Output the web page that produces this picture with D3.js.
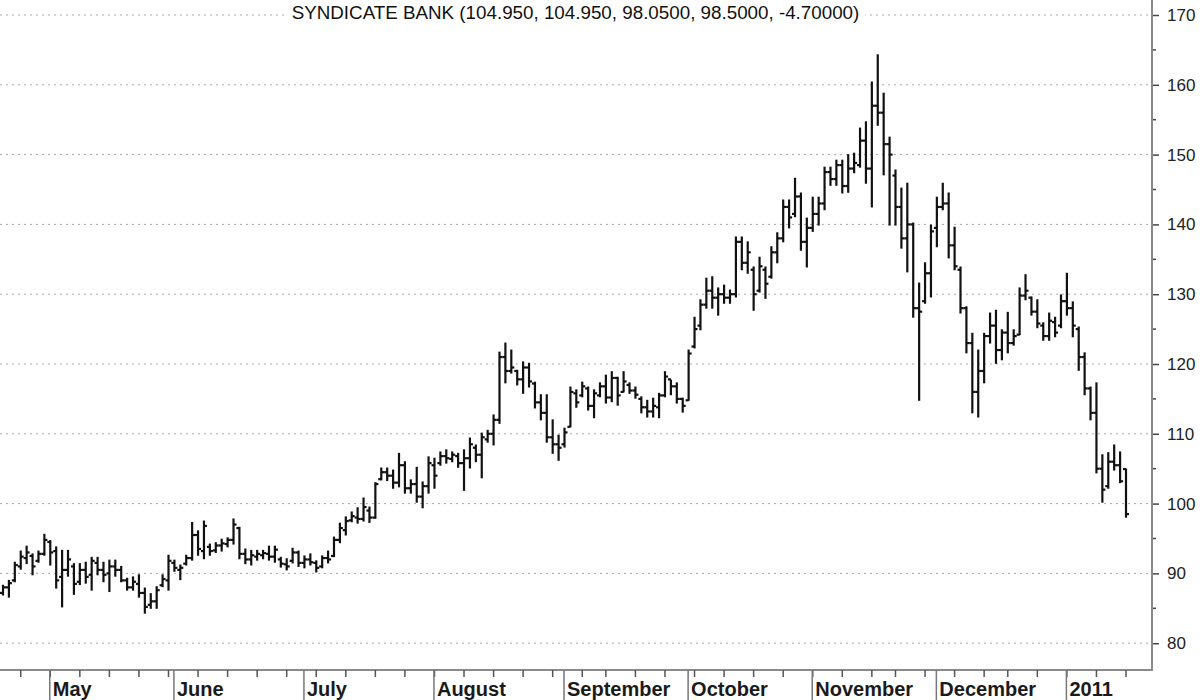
<!DOCTYPE html>
<html>
<head>
<meta charset="utf-8">
<script src="https://cdn.jsdelivr.net/npm/d3@7"></script>
<style>
  html, body { margin: 0; padding: 0; background: #fff; }
  svg { display: block; }
</style>
</head>
<body>
<svg id="chart" width="1200" height="700"></svg>
<script>
const titleText = "SYNDICATE BANK (104.950, 104.950, 98.0500, 98.5000, -4.70000)";

const highs = [
  88.3, 89.0, 91.6, 93.2, 93.9, 92.8, 93.2, 95.6, 94.7, 93.8,
  93.3, 93.3, 91.4, 91.4, 91.6, 92.3, 92.3, 91.6, 91.9, 91.9,
  91.0, 89.3, 89.5, 89.8, 87.9, 87.1, 88.1, 89.8, 92.6, 91.9,
  91.2, 92.6, 97.3, 96.1, 97.5, 94.2, 94.4, 94.9, 95.1, 97.8,
  96.6, 93.5, 93.3, 93.3, 93.3, 93.9, 93.9, 92.3, 92.1, 93.6,
  93.2, 92.5, 92.8, 91.8, 92.5, 93.2, 95.2, 97.2, 98.1, 98.8,
  99.4, 100.8, 99.5, 103.0, 105.1, 105.1, 104.8, 107.2, 106.0, 103.4,
  105.2, 103.1, 106.7, 106.5, 107.4, 107.7, 107.4, 107.2, 107.7, 109.4,
  108.4, 110.1, 110.5, 112.7, 121.7, 123.0, 122.0, 119.1, 120.3, 120.1,
  117.4, 115.6, 115.6, 112.0, 109.8, 110.8, 116.7, 116.3, 117.4, 116.7,
  116.3, 117.3, 118.4, 118.9, 118.1, 118.9, 117.3, 116.7, 115.3, 114.8,
  115.1, 115.8, 118.9, 117.7, 117.3, 115.1, 122.0, 126.7, 129.2, 132.3,
  132.5, 130.9, 131.3, 130.6, 138.2, 138.2, 137.5, 133.9, 135.3, 133.9,
  136.8, 138.8, 143.5, 143.5, 146.6, 144.5, 140.9, 143.9, 143.9, 148.2,
  148.2, 149.2, 149.2, 150.0, 150.2, 153.8, 154.7, 160.4, 164.3, 158.8,
  152.5, 147.8, 145.2, 145.9, 140.2, 131.6, 134.5, 139.9, 143.9, 145.9,
  144.5, 139.6, 133.9, 128.2, 124.4, 122.0, 124.4, 127.3, 127.7, 124.9,
  127.4, 124.9, 130.9, 132.8, 129.6, 129.2, 125.9, 127.3, 126.7, 129.9,
  133.0, 128.9, 125.3, 121.6, 116.7, 117.3, 107.0, 107.3, 108.4, 107.4,
  104.95
];

const lows = [
  86.9, 86.6, 88.8, 90.6, 91.4, 89.8, 91.6, 92.6, 91.2, 87.9,
  85.2, 89.6, 87.0, 88.4, 88.6, 87.6, 89.8, 88.8, 87.4, 89.6,
  88.8, 87.6, 87.6, 86.6, 84.3, 85.0, 85.0, 88.1, 87.6, 90.3,
  89.1, 91.2, 91.9, 92.6, 92.1, 92.6, 93.0, 93.2, 93.8, 94.2,
  92.1, 91.4, 91.2, 91.9, 92.1, 91.9, 91.6, 90.9, 90.5, 91.5,
  91.0, 90.8, 91.2, 90.2, 90.8, 91.5, 92.4, 94.4, 95.5, 97.4,
  97.2, 97.5, 97.3, 97.9, 103.4, 103.3, 102.2, 102.4, 101.5, 101.5,
  100.2, 99.4, 101.5, 102.2, 105.5, 105.8, 106.0, 105.2, 101.9, 105.1,
  106.0, 103.7, 108.8, 108.4, 111.5, 117.3, 118.7, 117.0, 115.8, 116.7,
  113.7, 112.0, 108.8, 107.2, 106.2, 108.1, 111.0, 113.8, 115.3, 113.4,
  112.3, 115.3, 114.4, 114.6, 114.1, 116.0, 115.8, 115.1, 113.0, 112.4,
  112.4, 112.3, 115.3, 115.6, 114.4, 113.1, 114.8, 122.3, 124.9, 128.0,
  128.0, 127.0, 128.7, 128.7, 129.6, 133.5, 133.0, 127.7, 130.3, 129.4,
  132.3, 134.5, 137.5, 139.5, 141.1, 136.3, 133.9, 139.0, 139.9, 142.1,
  145.6, 145.6, 144.5, 144.6, 147.4, 148.2, 145.9, 142.5, 154.2, 147.1,
  139.9, 139.9, 136.6, 133.2, 126.7, 114.8, 128.7, 129.6, 136.8, 142.1,
  135.2, 133.5, 127.3, 121.6, 113.0, 112.4, 117.3, 123.0, 120.1, 120.6,
  121.6, 122.7, 124.2, 129.2, 127.0, 125.2, 123.4, 123.4, 123.9, 125.2,
  127.0, 123.9, 119.1, 115.6, 112.0, 104.4, 100.2, 102.2, 104.8, 103.0,
  98.05
];

const opens = [
  87.2, 88.0, 89.0, 91.0, 92.2, 92.5, 91.8, 92.8, 94.5, 93.2,
  89.5, 90.5, 91.0, 88.8, 90.5, 89.8, 91.5, 90.5, 90.0, 91.0,
  90.5, 89.0, 88.0, 88.5, 87.2, 85.5, 86.0, 88.3, 89.0, 91.5,
  90.5, 91.4, 92.2, 95.5, 93.2, 93.8, 93.3, 94.0, 94.2, 94.8,
  96.5, 92.8, 92.0, 92.4, 92.6, 92.8, 92.4, 92.0, 91.3, 91.8,
  93.0, 91.5, 92.0, 91.5, 91.0, 92.2, 92.5, 94.8, 96.2, 97.6,
  98.0, 97.8, 99.0, 98.0, 103.5, 104.5, 104.0, 103.0, 105.5, 102.2,
  102.8, 101.0, 102.5, 105.5, 105.8, 106.8, 106.4, 106.8, 105.8, 106.5,
  108.0, 107.0, 109.2, 110.0, 112.0, 121.0, 119.0, 119.0, 117.8, 119.5,
  117.2, 114.5, 113.0, 109.5, 108.5, 108.5, 111.0, 115.8, 115.5, 116.5,
  114.0, 115.5, 116.8, 115.2, 118.0, 116.0, 117.0, 116.2, 115.0, 113.8,
  113.2, 113.8, 115.5, 117.8, 116.8, 115.0, 114.8, 122.5, 125.5, 128.5,
  130.5, 129.5, 130.0, 129.5, 130.0, 137.5, 134.5, 133.5, 130.5, 133.5,
  132.5, 136.0, 138.0, 142.5, 141.5, 144.0, 137.5, 139.5, 141.5, 143.0,
  147.5, 146.5, 148.5, 145.5, 148.0, 148.5, 152.0, 148.0, 157.0, 156.0,
  151.5, 147.0, 142.5, 138.0, 140.0, 128.0, 129.0, 133.0, 139.5, 142.5,
  143.0, 137.0, 133.5, 128.0, 123.0, 116.0, 119.0, 124.0, 125.5, 122.0,
  124.5, 123.0, 124.2, 129.8, 129.5, 127.5, 125.5, 124.0, 126.0, 125.5,
  129.0, 128.0, 125.0, 121.0, 116.5, 113.0, 105.0, 102.5, 106.0, 105.5,
  104.95
];

const closes = [
  88.0, 88.6, 91.2, 92.4, 93.0, 91.0, 92.8, 94.8, 93.0, 89.0,
  90.5, 92.0, 88.5, 90.5, 89.5, 91.8, 90.5, 89.8, 91.0, 90.5,
  89.0, 88.0, 88.8, 87.2, 85.2, 86.0, 87.6, 89.2, 91.8, 90.8,
  90.8, 92.2, 95.5, 93.5, 96.8, 93.2, 94.0, 94.3, 94.8, 97.0,
  92.8, 92.0, 92.6, 92.8, 92.9, 92.4, 93.4, 91.4, 91.0, 93.0,
  91.5, 92.0, 91.6, 90.8, 92.2, 92.0, 94.8, 96.5, 97.5, 98.2,
  97.8, 99.5, 98.0, 102.8, 104.5, 104.0, 103.0, 105.5, 102.2, 102.8,
  101.0, 102.5, 105.8, 104.0, 106.8, 106.5, 107.0, 105.8, 106.5, 108.5,
  107.0, 109.5, 110.0, 112.0, 121.0, 119.0, 119.5, 117.8, 119.5, 117.5,
  114.5, 113.0, 109.5, 108.5, 108.0, 110.2, 116.0, 114.5, 116.8, 114.0,
  115.8, 116.8, 115.2, 118.0, 115.5, 117.5, 116.2, 115.6, 113.8, 113.2,
  114.0, 115.5, 118.2, 116.8, 115.0, 114.0, 121.5, 125.0, 128.5, 130.5,
  129.5, 130.0, 129.5, 130.0, 137.5, 134.5, 136.0, 130.0, 134.0, 131.5,
  136.0, 138.0, 142.5, 141.0, 144.0, 137.5, 139.5, 141.5, 143.0, 147.5,
  146.5, 148.5, 145.5, 148.0, 148.8, 152.0, 148.0, 157.0, 156.0, 151.5,
  150.0, 142.5, 138.0, 140.0, 128.0, 127.5, 133.0, 139.0, 142.5, 143.0,
  137.0, 134.0, 128.0, 123.0, 116.0, 119.0, 124.0, 125.5, 122.0, 124.5,
  123.0, 124.0, 129.8, 130.5, 127.5, 125.8, 124.0, 126.2, 124.5, 129.0,
  128.0, 125.5, 121.0, 116.5, 113.0, 105.0, 102.0, 106.0, 105.5, 103.2,
  98.5
];

const monthLabels = ["May", "June", "July", "August", "September", "October", "November", "December", "2011"];
const monthStarts = [8, 29, 51, 73, 95, 116, 137, 158, 180];
const weekTicks = [3, 8, 13, 18, 23, 28, 33, 38, 43, 48, 53, 58, 63, 68, 73, 78, 83, 88, 93, 98, 102, 107, 112, 117, 122, 127, 132, 137, 142, 147, 151, 156, 161, 166, 170, 175, 180, 185, 190];
const yTicks = [80, 90, 100, 110, 120, 130, 140, 150, 160, 170];
const yMinorTicks = [85, 95, 105, 115, 125, 135, 145, 155, 165];

const svg = d3.select("#chart");
const plotRight = 1152, plotBottom = 670;

const x = d3.scaleLinear().domain([0, highs.length - 1]).range([3, 1126]);
const y = d3.scaleLinear().domain([80, 170]).range([643.2, 15]);

const bars = highs.map((h, i) => ({ i, o: opens[i], h, l: lows[i], c: closes[i] }));

// gridlines
svg.append("g").selectAll("line").data(yTicks).join("line")
  .attr("x1", 0).attr("x2", plotRight)
  .attr("y1", d => y(d)).attr("y2", d => y(d))
  .attr("stroke", "#a8a8a8").attr("stroke-width", 1)
  .attr("stroke-dasharray", "2,4");

// right axis
const axisR = d3.axisRight(y).tickValues(yTicks).tickSize(7).tickPadding(8).tickFormat(d3.format("d"));
const gR = svg.append("g").attr("transform", `translate(${plotRight},0)`).call(axisR);
gR.select(".domain").remove();
gR.selectAll(".tick line").attr("stroke", "#444").attr("stroke-width", 1.5);
gR.selectAll(".tick text").attr("font-family", "'Liberation Sans', Arial, sans-serif")
  .attr("font-size", 17).attr("fill", "#222");
svg.append("g").selectAll("line").data(yMinorTicks).join("line")
  .attr("x1", plotRight).attr("x2", plotRight + 4)
  .attr("y1", d => y(d)).attr("y2", d => y(d))
  .attr("stroke", "#444").attr("stroke-width", 1.5);

svg.append("line").attr("x1", plotRight).attr("x2", plotRight)
  .attr("y1", 0).attr("y2", plotBottom + 1)
  .attr("stroke", "#8a8a8a").attr("stroke-width", 2);

// bottom axis
svg.append("line").attr("x1", 0).attr("x2", plotRight + 1)
  .attr("y1", plotBottom).attr("y2", plotBottom)
  .attr("stroke", "#8a8a8a").attr("stroke-width", 2);
svg.append("g").selectAll("line").data(weekTicks).join("line")
  .attr("x1", d => x(d)).attr("x2", d => x(d))
  .attr("y1", plotBottom).attr("y2", plotBottom + 7)
  .attr("stroke", "#555").attr("stroke-width", 1.5);
svg.append("g").selectAll("line").data(monthStarts).join("line")
  .attr("x1", d => x(d) - 0.5).attr("x2", d => x(d) - 0.5)
  .attr("y1", plotBottom).attr("y2", 700)
  .attr("stroke", "#777").attr("stroke-width", 1.5);
svg.append("g").selectAll("text").data(monthLabels).join("text")
  .attr("x", (d, k) => x(monthStarts[k]) + 2.5)
  .attr("y", 696)
  .attr("font-family", "'Liberation Sans', Arial, sans-serif")
  .attr("font-size", 20).attr("font-weight", "bold").attr("fill", "#1a1a1a")
  .text(d => d);

// OHLC bars
const gB = svg.append("g").attr("stroke", "#111").attr("stroke-width", 2.2);
gB.selectAll("line.hl").data(bars).join("line").attr("class", "hl")
  .attr("x1", d => x(d.i)).attr("x2", d => x(d.i))
  .attr("y1", d => y(d.h) - 0.5).attr("y2", d => y(d.l) + 0.5);
gB.selectAll("line.op").data(bars).join("line").attr("class", "op")
  .attr("x1", d => x(d.i) - 3).attr("x2", d => x(d.i))
  .attr("y1", d => y(d.o)).attr("y2", d => y(d.o));
gB.selectAll("line.cl").data(bars).join("line").attr("class", "cl")
  .attr("x1", d => x(d.i)).attr("x2", d => x(d.i) + 3)
  .attr("y1", d => y(d.c)).attr("y2", d => y(d.c));

// title
const tg = svg.append("g");
const bg = tg.append("rect").attr("fill", "#fff");
const tt = tg.append("text").attr("x", 575.5).attr("y", 18.5)
  .attr("text-anchor", "middle")
  .attr("font-family", "'Liberation Sans', Arial, sans-serif")
  .attr("font-size", 18.8).attr("fill", "#111")
  .text(titleText);
const bb = tt.node().getBBox();
bg.attr("x", bb.x - 6).attr("y", bb.y).attr("width", bb.width + 12).attr("height", bb.height);
</script>
</body>
</html>
